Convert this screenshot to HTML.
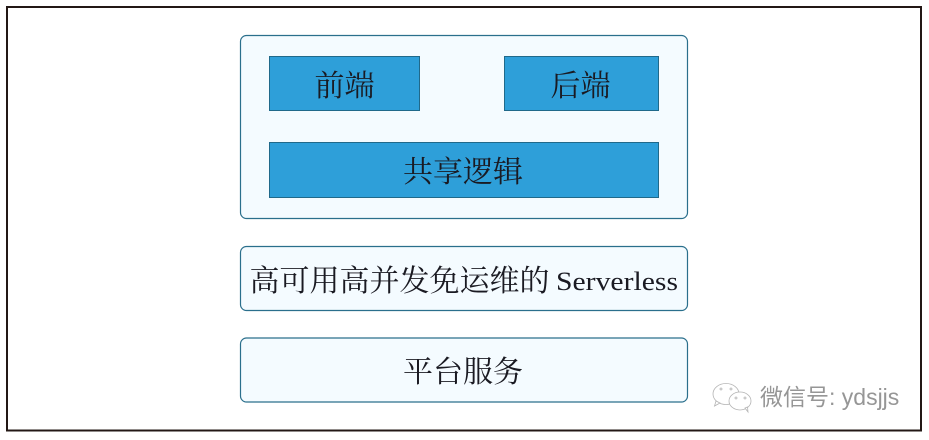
<!DOCTYPE html>
<html><head><meta charset="utf-8">
<style>
html,body{margin:0;padding:0;background:#fff}
svg{display:block}
text{font-family:"Noto Serif CJK SC","Liberation Serif",serif;fill:#1a1a22;font-size:30px}
</style></head>
<body>
<svg width="929" height="440" viewBox="0 0 929 440" xmlns="http://www.w3.org/2000/svg">
<rect x="0" y="0" width="929" height="440" fill="#fff"/>
<rect x="7" y="7" width="914" height="423.500" fill="#fff" stroke="#231815" stroke-width="2"/>
<rect x="240.500" y="35.500" width="447" height="183" rx="6" fill="#f4fbff" stroke="#2a6f8c" stroke-width="1.200"/>
<rect x="240.500" y="246.500" width="447" height="64" rx="6" fill="#f4fbff" stroke="#2a6f8c" stroke-width="1.200"/>
<rect x="240.500" y="338" width="447" height="64" rx="6" fill="#f4fbff" stroke="#2a6f8c" stroke-width="1.200"/>
<rect x="269.500" y="56.500" width="150" height="54" fill="#2e9fd9" stroke="#20698a" stroke-width="1"/>
<rect x="504.500" y="56.500" width="154" height="54" fill="#2e9fd9" stroke="#20698a" stroke-width="1"/>
<rect x="269.500" y="142.500" width="389" height="55" fill="#2e9fd9" stroke="#20698a" stroke-width="1"/>
<text x="314.500" y="96">前端</text>
<text x="550.500" y="96">后端</text>
<text x="403" y="182">共享逻辑</text>
<text x="249.500" y="291">高可用高并发免运维的</text>
<text x="556" y="290" textLength="122" lengthAdjust="spacingAndGlyphs" style="font-family:'Liberation Serif',serif;font-size:26px">Serverless</text>
<text x="403" y="382">平台服务</text>
<g fill="#fff" stroke="#b4b4b4" stroke-width="0.800">
<ellipse cx="726" cy="394" rx="13" ry="10.500"/>
<path d="M716 401l-1.500 5 5.500-3z"/>
<ellipse cx="740" cy="401" rx="11" ry="9"/>
<path d="M745 408l3 4-.5-5z"/>
<circle cx="721" cy="389" r="1"/><circle cx="731" cy="389" r="1"/>
<circle cx="736" cy="398" r="1"/><circle cx="745" cy="398" r="1"/>
</g>
<text x="760" y="405" style="font-family:'Liberation Sans','Noto Sans CJK SC',sans-serif;font-size:23px;fill:#969696">微信号: ydsjjs</text>
</svg>
</body></html>
